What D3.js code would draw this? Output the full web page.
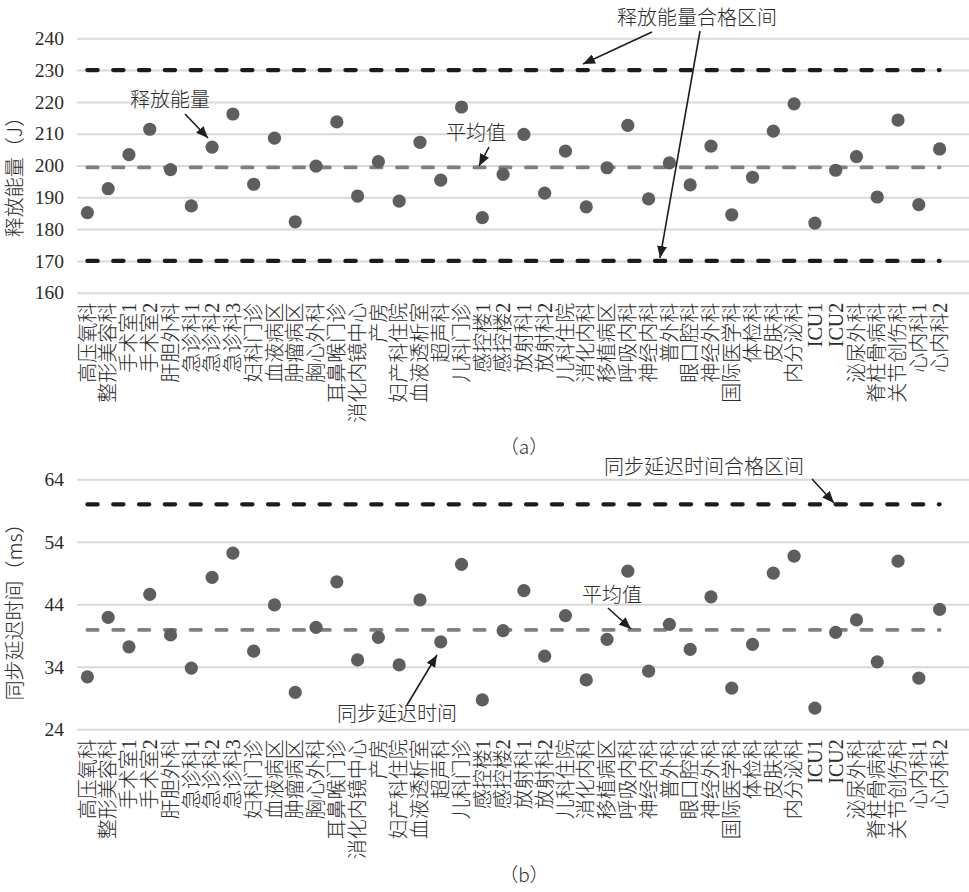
<!DOCTYPE html>
<html>
<head>
<meta charset="utf-8">
<script src="https://cdn.jsdelivr.net/npm/d3@7"></script>
<style>
  html, body { margin: 0; padding: 0; background: #fff; }
  svg { display: block; }
</style>
</head>
<body>
<svg id="chart" width="969" height="892"></svg>
<script>
// ---------------- data ----------------
const categories = ["高压氧科","整形美容科","手术室1","手术室2","肝胆外科","急诊科1","急诊科2","急诊科3","妇科门诊","血液病区","肿瘤病区","胸心外科","耳鼻喉门诊","消化内镜中心","产房","妇产科住院","血液透析室","超声科","儿科门诊","感控楼1","感控楼2","放射科1","放射科2","儿科住院","消化内科","移植病区","呼吸内科","神经内科","普外科","眼口腔科","神经外科","国际医学科","体检科","皮肤科","内分泌科","ICU1","ICU2","泌尿外科","脊柱骨病科","关节创伤科","心内科1","心内科2"];

const energyValues = [185.2,192.7,203.4,211.4,198.7,187.3,205.8,216.2,194.1,208.6,182.3,199.8,213.7,190.4,201.2,188.8,207.3,195.4,218.4,183.6,197.2,209.8,191.3,204.5,187.0,199.3,212.6,189.5,200.8,193.9,206.1,184.5,196.3,210.8,219.4,181.9,198.5,202.8,190.1,214.3,187.7,205.2];
const delayValues = [32.4,41.9,37.2,45.6,39.1,33.8,48.3,52.2,36.5,43.9,29.9,40.3,47.6,35.1,38.7,34.3,44.7,38.0,50.4,28.7,39.8,46.2,35.7,42.2,31.9,38.4,49.3,33.3,40.8,36.8,45.2,30.6,37.6,49.0,51.7,27.4,39.5,41.5,34.8,50.9,32.2,43.2];

const energyTicks = [160,170,180,190,200,210,220,230,240];
const delayTicks = [24,34,44,54,64];
const energyLimits = [170,230];
const energyMean = 199.4;
const delayLimits = [60];
const delayMean = 39.9;

const energyTitle = "释放能量（J）";
const delayTitle = "同步延迟时间（ms）";

// ---------------- style ----------------
const CJK = "'Noto Sans CJK SC', 'Noto Sans CJK JP', sans-serif";
const SERIF = "'Liberation Serif', 'DejaVu Serif', serif";
const LABEL = "'Liberation Serif', 'Noto Sans CJK SC', serif";
const TXT = "#2b2b2b";

const svg = d3.select("#chart");
svg.append("rect").attr("width",969).attr("height",892).attr("fill","#fff");

const defs = svg.append("defs");
defs.append("marker").attr("id","arrow")
  .attr("viewBox","0 0 12 10").attr("refX",12).attr("refY",5)
  .attr("markerWidth",12).attr("markerHeight",10).attr("markerUnits","userSpaceOnUse")
  .attr("orient","auto")
  .append("path").attr("d","M0,0 L12,5 L0,10 Z").attr("fill","#1e1e1e");

const x = d3.scaleBand().domain(categories).range([77, 950]).paddingInner(0).paddingOuter(0);
const cx = d => x(d) + x.bandwidth()/2;

function panel(opts) {
  const y = d3.scaleLinear().domain(opts.domain).range(opts.range);
  const g = svg.append("g");

  // gridlines + tick labels
  const ya = g.append("g").attr("transform","translate(77,0)")
    .call(d3.axisLeft(y).tickValues(opts.ticks).tickSizeInner(-892).tickSizeOuter(0).tickPadding(13));
  ya.select(".domain").remove();
  ya.selectAll(".tick line").attr("stroke","#d9d9d9").attr("stroke-width",2);
  ya.selectAll(".tick text").attr("font-family",SERIF).attr("font-size",19.5).attr("fill",TXT);

  // x axis labels (rotated -90)
  const xa = g.append("g").attr("transform",`translate(0,${opts.range[0]})`)
    .call(d3.axisBottom(x).tickSize(0).tickPadding(0));
  xa.select(".domain").remove();
  xa.selectAll(".tick text")
    .attr("font-family",LABEL).attr("font-weight",300).attr("font-size",20).attr("fill",TXT)
    .attr("text-anchor","end")
    .attr("y",0).attr("dy","0.36em")
    .attr("transform","translate(0,10) rotate(-90)");

  const x0 = cx(categories[0]), x1 = cx(categories[categories.length-1]);
  // limit lines
  g.selectAll(".lim").data(opts.limits).join("line")
    .attr("x1",x0).attr("x2",x1).attr("y1",d=>y(d)).attr("y2",d=>y(d))
    .attr("stroke","#1c1c1c").attr("stroke-width",4.2)
    .attr("stroke-linecap","round").attr("stroke-dasharray","10.3,15.5");
  // mean line
  g.append("line")
    .attr("x1",x0).attr("x2",x1).attr("y1",y(opts.mean)).attr("y2",y(opts.mean))
    .attr("stroke","#808080").attr("stroke-width",3.8)
    .attr("stroke-linecap","round").attr("stroke-dasharray","10.3,15.5");
  // dots
  g.selectAll(".dot").data(opts.values).join("circle")
    .attr("cx",(d,i)=>cx(categories[i])).attr("cy",d=>y(d)).attr("r",6.6)
    .attr("fill","#5e5e5e");

  // y title
  g.append("text")
    .attr("transform",`translate(${opts.titleX},${opts.titleY}) rotate(-90)`)
    .attr("text-anchor","middle").attr("font-family",CJK).attr("font-weight",300)
    .attr("font-size",20).attr("fill",TXT).text(opts.title);

  // caption
  g.append("text").attr("x",524).attr("y",opts.captionY).attr("text-anchor","middle")
    .attr("font-family",CJK).attr("font-weight",300).attr("font-size",19).attr("fill",TXT)
    .text(opts.caption);

  // annotations
  opts.notes.forEach(n => {
    g.append("text").attr("x",n.tx).attr("y",n.ty).attr("font-family",CJK).attr("font-weight",300)
      .attr("font-size",20).attr("fill",TXT).text(n.text);
    n.arrows.forEach(a => {
      g.append("line").attr("x1",a[0]).attr("y1",a[1]).attr("x2",a[2]).attr("y2",a[3])
        .attr("stroke","#1e1e1e").attr("stroke-width",1.6).attr("marker-end","url(#arrow)");
    });
  });
}

panel({
  domain:[160,240], range:[292.7,38.3], ticks:energyTicks,
  values:energyValues, limits:energyLimits, mean:energyMean,
  title:energyTitle, titleX:22, titleY:172, caption:"（a）", captionY:454,
  notes:[
    {text:"释放能量", tx:130, ty:107, arrows:[[185,114,208,138]]},
    {text:"平均值", tx:446, ty:140, arrows:[[489,147,479,166]]},
    {text:"释放能量合格区间", tx:617, ty:25, arrows:[[652,32,583,64],[700,31,660,258]]}
  ]
});

panel({
  domain:[24,64], range:[729.3,479.3], ticks:delayTicks,
  values:delayValues, limits:delayLimits, mean:delayMean,
  title:delayTitle, titleX:22, titleY:607, caption:"（b）", captionY:882,
  notes:[
    {text:"同步延迟时间合格区间", tx:604, ty:474, arrows:[[812,479,834,503]]},
    {text:"平均值", tx:582, ty:602, arrows:[[608,608,631,629]]},
    {text:"同步延迟时间", tx:337, ty:721, arrows:[[407,705,437,655]]}
  ]
});
</script>
</body>
</html>
